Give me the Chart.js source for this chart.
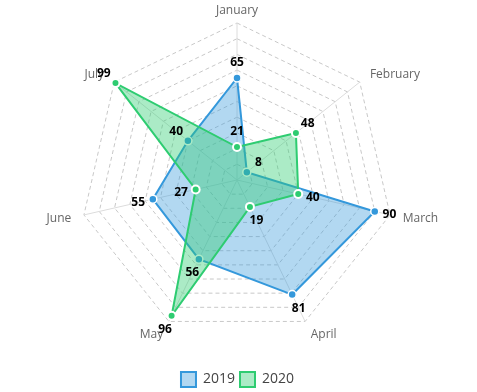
<!DOCTYPE html>
<html>
<head>
<meta charset="utf-8">
<script src="https://cdn.jsdelivr.net/npm/chart.js@4"></script>
<style>
  html, body { margin: 0; padding: 0; background: #fff; }
  #wrap { width: 477px; height: 392px; }
</style>
</head>
<body>
<div id="wrap"><canvas id="myChart"></canvas></div>
<script>
const months = ['January','February','March','April','May','June','July'];
const values2019 = [65, 8, 90, 81, 56, 55, 40];
const values2020 = [21, 48, 40, 19, 96, 27, 99];

// month names around the web, centred a bit outside the outer ring
const monthLabels = {
  id: 'monthLabels',
  beforeDatasetsDraw(chart){
    const ctx = chart.ctx;
    const r = chart.scales.r;
    ctx.save();
    ctx.font = '12px "Open Sans"';
    ctx.fillStyle = '#666';
    ctx.textBaseline = 'middle';
    chart.data.labels.forEach((txt, i) => {
      const p = r.getPointPosition(i, r.drawingArea + 13);
      const dx = p.x - r.xCenter;
      ctx.textAlign = Math.abs(dx) < 1 ? 'center' : (dx > 0 ? 'left' : 'right');
      ctx.fillText(txt, p.x, p.y + 1);
    });
    ctx.restore();
  }
};

// draws each value just outside its point, away from the centre
const valueLabels = {
  id: 'valueLabels',
  afterDatasetsDraw(chart){
    const ctx = chart.ctx;
    const r = chart.scales.r;
    ctx.save();
    ctx.font = 'bold 12px "Open Sans"';
    ctx.fillStyle = '#000';
    ctx.textAlign = 'center';
    ctx.textBaseline = 'middle';
    chart.data.datasets.forEach((ds, i) => {
      const meta = chart.getDatasetMeta(i);
      meta.data.forEach((pt, j) => {
        let dx = pt.x - r.xCenter, dy = pt.y - r.yCenter;
        const len = Math.sqrt(dx*dx + dy*dy) || 1;
        ctx.fillText(ds.data[j], pt.x + dx/len*15, pt.y + dy/len*15);
      });
    });
    ctx.restore();
  }
};

const myChart = new Chart(document.getElementById('myChart'), {
  type: 'radar',
  data: {
    labels: months,
    datasets: [
      {
        label: '2019',
        data: values2019,
        order: 1,
        borderColor: '#3498db',
        backgroundColor: 'rgba(52,152,219,0.38)',
        borderWidth: 2,
        pointBackgroundColor: '#3498db',
        pointBorderColor: '#fff',
        pointBorderWidth: 1.5,
        pointRadius: 4
      },
      {
        label: '2020',
        data: values2020,
        order: 0,
        borderColor: '#2ecc71',
        backgroundColor: 'rgba(46,204,113,0.4)',
        borderWidth: 2,
        pointBackgroundColor: '#2ecc71',
        pointBorderColor: '#fff',
        pointBorderWidth: 2,
        pointRadius: 4
      }
    ]
  },
  options: {
    responsive: true,
    maintainAspectRatio: false,
    animation: false,
    layout: { padding: { top: 23, bottom: -5, left: 0, right: 2 } },
    plugins: {
      legend: {
        position: 'bottom',
        // empty title only adds room between the web and the legend items
        title: { display: true, text: '', font: { size: 10 }, padding: { top: 18, bottom: 0 } },
        labels: {
          boxWidth: 15,
          boxHeight: 15,
          color: '#444',
          font: { family: '"Open Sans"', size: 14 },
          padding: 5,
          sort: (a, b) => a.datasetIndex - b.datasetIndex
        }
      },
      tooltip: { enabled: false }
    },
    scales: {
      r: {
        min: 0,
        max: 100,
        ticks: { display: false, stepSize: 10 },
        grid: { color: '#c8c8c8' },
        border: { dash: [4, 3] },
        angleLines: { color: '#dcdcdc' },
        pointLabels: { display: false }
      }
    }
  },
  plugins: [monthLabels, valueLabels]
});
</script>
</body>
</html>
